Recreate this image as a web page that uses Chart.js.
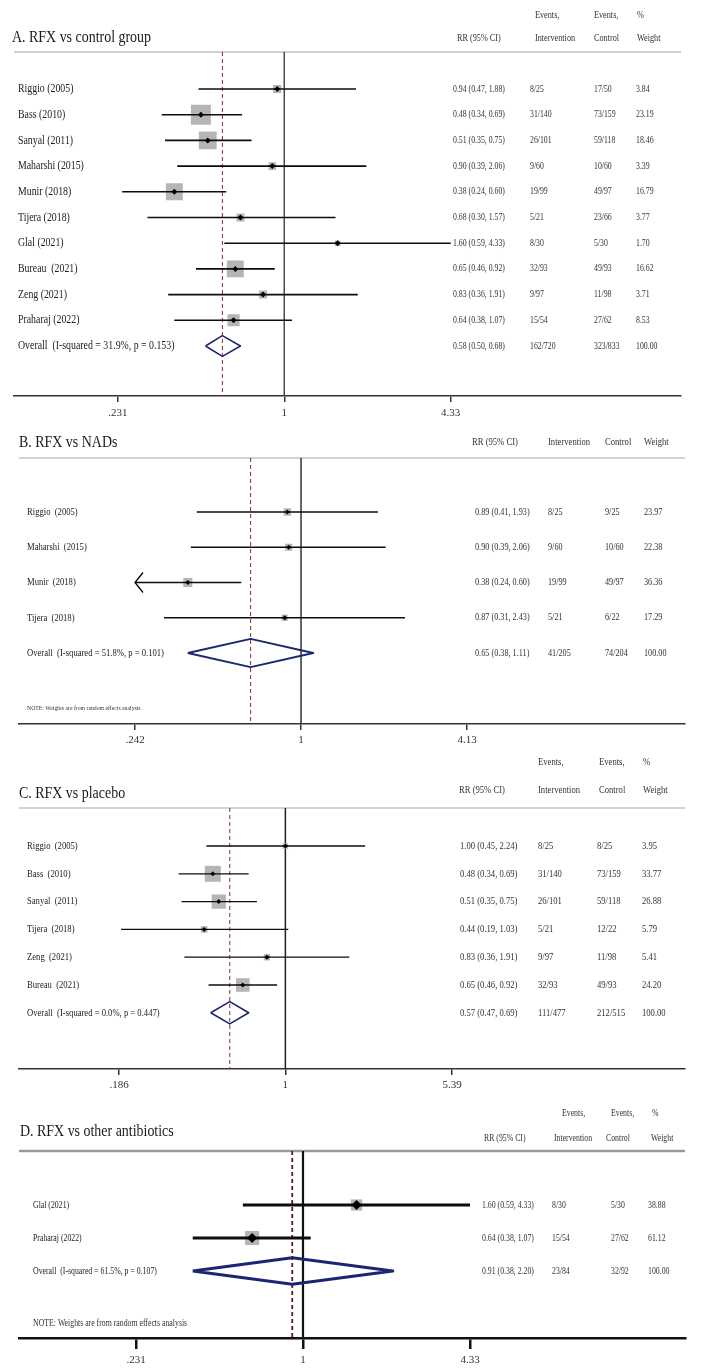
<!DOCTYPE html>
<html>
<head>
<meta charset="utf-8">
<script src="https://cdn.jsdelivr.net/npm/chart.js@4.4.1/dist/chart.umd.min.js"></script>
<style>
  html, body { margin:0; padding:0; background:#fff; }
  #page { position:relative; width:709px; height:1371px; overflow:hidden; background:#fff; }
  #page canvas { position:absolute; left:0; }
</style>
</head>
<body>
<div id="page">
  <canvas id="chartA" width="709" height="425" style="top:0px"></canvas>
  <canvas id="chartB" width="709" height="325" style="top:425px"></canvas>
  <canvas id="chartC" width="709" height="345" style="top:750px"></canvas>
  <canvas id="chartD" width="709" height="276" style="top:1095px"></canvas>
</div>
<script>
// ── shared header text
const headTop  = ['Events,', 'Events,', '%'];
const headCols = ['RR (95% CI)', 'Intervention', 'Control', 'Weight'];
const noteText = 'NOTE: Weights are from random effects analysis';

// ── A. RFX vs control group
const aTitle   = 'A. RFX vs control group';
const aStudies = ['Riggio (2005)','Bass (2010)','Sanyal (2011)','Maharshi (2015)','Munir (2018)','Tijera (2018)','Glal (2021)','Bureau  (2021)','Zeng (2021)','Praharaj (2022)'];
const aRR      = [0.94, 0.48, 0.51, 0.90, 0.38, 0.68, 1.60, 0.65, 0.83, 0.64];
const aLo      = [0.47, 0.34, 0.35, 0.39, 0.24, 0.30, 0.59, 0.46, 0.36, 0.38];
const aHi      = [1.88, 0.69, 0.75, 2.06, 0.60, 1.57, 4.33, 0.92, 1.91, 1.07];
const aEvInt   = ['8/25','31/140','26/101','9/60','19/99','5/21','8/30','32/93','9/97','15/54'];
const aEvCtl   = ['17/50','73/159','59/118','10/60','49/97','23/66','5/30','49/93','11/98','27/62'];
const aWeight  = [3.84, 23.19, 18.46, 3.39, 16.79, 3.77, 1.70, 16.62, 3.71, 8.53];
const aOverall = [0.58, 0.50, 0.68];
const aTotals  = ['162/720', '323/833'];
const aHet     = [31.9, 0.153];
const aTicks   = [0.231, 1, 4.33];
const aTickLab = ['.231', '1', '4.33'];

// ── B. RFX vs NADs
const bTitle   = 'B. RFX vs NADs';
const bStudies = ['Riggio  (2005)','Maharshi  (2015)','Munir  (2018)','Tijera  (2018)'];
const bRR      = [0.89, 0.90, 0.38, 0.87];
const bLo      = [0.41, 0.39, 0.24, 0.31];
const bHi      = [1.93, 2.06, 0.60, 2.43];
const bEvInt   = ['8/25','9/60','19/99','5/21'];
const bEvCtl   = ['9/25','10/60','49/97','6/22'];
const bWeight  = [23.97, 22.38, 36.36, 17.29];
const bOverall = [0.65, 0.38, 1.11];
const bTotals  = ['41/205', '74/204'];
const bHet     = [51.8, 0.101];
const bTicks   = [0.242, 1, 4.13];
const bTickLab = ['.242', '1', '4.13'];

// ── C. RFX vs placebo
const cTitle   = 'C. RFX vs placebo';
const cStudies = ['Riggio  (2005)','Bass  (2010)','Sanyal  (2011)','Tijera  (2018)','Zeng  (2021)','Bureau  (2021)'];
const cRR      = [1.00, 0.48, 0.51, 0.44, 0.83, 0.65];
const cLo      = [0.45, 0.34, 0.35, 0.19, 0.36, 0.46];
const cHi      = [2.24, 0.69, 0.75, 1.03, 1.91, 0.92];
const cEvInt   = ['8/25','31/140','26/101','5/21','9/97','32/93'];
const cEvCtl   = ['8/25','73/159','59/118','12/22','11/98','49/93'];
const cWeight  = [3.95, 33.77, 26.88, 5.79, 5.41, 24.20];
const cOverall = [0.57, 0.47, 0.69];
const cTotals  = ['111/477', '212/515'];
const cHet     = [0.0, 0.447];
const cTicks   = [0.186, 1, 5.39];
const cTickLab = ['.186', '1', '5.39'];

// ── D. RFX vs other antibiotics
const dTitle   = 'D. RFX vs other antibiotics';
const dStudies = ['Glal (2021)','Praharaj (2022)'];
const dRR      = [1.60, 0.64];
const dLo      = [0.59, 0.38];
const dHi      = [4.33, 1.07];
const dEvInt   = ['8/30','15/54'];
const dEvCtl   = ['5/30','27/62'];
const dWeight  = [38.88, 61.12];
const dOverall = [0.91, 0.38, 2.20];
const dTotals  = ['23/84', '32/92'];
const dHet     = [61.5, 0.107];
const dTicks   = [0.231, 1, 4.33];
const dTickLab = ['.231', '1', '4.33'];

const FONT = '"Liberation Serif", "Times New Roman", serif';
const SQUEEZE = 0.82;   // the source figure is horizontally condensed
const PAGE_W = 709;

function txt(ctx, s, x, y, size, color) {
  ctx.save();
  ctx.font = size + 'px ' + FONT;
  ctx.fillStyle = color || '#333';
  ctx.textBaseline = 'middle';
  ctx.textAlign = 'left';
  ctx.translate(x, y);
  ctx.scale(SQUEEZE, 1);
  ctx.fillText(s, 0, 0);
  ctx.restore();
}
const ci = (r, l, h) => r.toFixed(2) + ' (' + l.toFixed(2) + ', ' + h.toFixed(2) + ')';

function decor(d, L) {
  return {
    id: 'forestDecor',
    beforeDatasetsDraw(chart) {
      const {ctx, chartArea: a} = chart;
      ctx.save();
      ctx.strokeStyle = L.sepColor; ctx.lineWidth = L.sepW;
      ctx.beginPath(); ctx.moveTo(a.left, a.top); ctx.lineTo(a.right, a.top); ctx.stroke();
      ctx.restore();
    },
    afterDatasetsDraw(chart) {
      const {ctx} = chart;
      const xs = chart.scales.x, ys = chart.scales.y;
      // arrows where a CI runs past the axis range
      d.lo.forEach((lo, i) => {
        if (lo >= d.ticks[0]) return;
        const px = xs.getPixelForValue(d.ticks[0]), py = ys.getPixelForValue(i);
        ctx.save(); ctx.strokeStyle = '#000'; ctx.lineWidth = L.ciW;
        ctx.beginPath(); ctx.moveTo(px + 8, py - 10); ctx.lineTo(px, py); ctx.lineTo(px + 8, py + 10); ctx.stroke();
        ctx.restore();
      });
      // title and headers
      txt(ctx, d.title, L.titleX, L.titleY, L.fTitle, '#1a1a1a');
      if (L.head1Y != null) headTop.forEach((s, k) => txt(ctx, s, L.head1X[k], L.head1Y, L.fHead));
      headCols.forEach((s, k) => txt(ctx, s, L.head2X[k], L.head2Y, L.fHead));
      // study rows
      d.studies.forEach((name, i) => {
        const y = ys.getPixelForValue(i);
        txt(ctx, name, L.labelX, y, L.fLabel, '#222');
        txt(ctx, ci(d.rr[i], d.lo[i], d.hi[i]), L.valX[0], y, L.fVal);
        txt(ctx, d.evInt[i], L.valX[1], y, L.fVal);
        txt(ctx, d.evCtl[i], L.valX[2], y, L.fVal);
        txt(ctx, d.weight[i].toFixed(2), L.valX[3], y, L.fVal);
      });
      // overall row
      const oy = ys.getPixelForValue(d.studies.length);
      txt(ctx, 'Overall  (I-squared = ' + d.het[0].toFixed(1) + '%, p = ' + d.het[1].toFixed(3) + ')', L.labelX, oy, L.fLabel, '#222');
      txt(ctx, ci(d.overall[0], d.overall[1], d.overall[2]), L.valX[0], oy, L.fVal);
      txt(ctx, d.totals[0], L.valX[1], oy, L.fVal);
      txt(ctx, d.totals[1], L.valX[2], oy, L.fVal);
      txt(ctx, (100).toFixed(2), L.valX[3], oy, L.fVal);
      if (L.noteY != null) txt(ctx, noteText, L.labelX, L.noteY, L.fNote, '#333');
    }
  };
}

function forest(id, d, L) {
  const lnA = Math.log(d.ticks[0]), lnB = Math.log(d.ticks[2]);
  const k = (L.tickPx[2] - L.tickPx[0]) / (lnB - lnA);
  const p1 = L.tickPx[0] - k * lnA;
  const xMin = Math.exp((L.left - p1) / k), xMax = Math.exp((L.right - p1) / k);
  const yMin = -(L.row0 - L.top) / L.step, yMax = (L.axisY - L.row0) / L.step;
  const axisH = L.tickLen + 2 * L.tickPad + L.fTick * 1.2;

  const ds = [];
  ds.push({ data:[{x:1, y:yMin}, {x:1, y:yMax}], showLine:true, borderColor:L.refColor, borderWidth:L.refW, pointRadius:0, order:4 });
  ds.push({ data:[{x:d.overall[0], y:yMin}, {x:d.overall[0], y:yMax}], showLine:true, borderColor:L.dashColor, borderWidth:L.dashW, borderDash:[4,3], pointRadius:0, order:4 });
  d.rr.forEach((r, i) => {
    const lo = Math.max(d.lo[i], d.ticks[0]), hi = Math.min(d.hi[i], d.ticks[2]);
    ds.push({ data:[{x:lo, y:i}, {x:hi, y:i}], showLine:true, borderColor:'#0d0d0d', borderWidth:L.ciW, pointRadius:0, order:1 });
  });
  ds.push({ data:d.rr.map((r, i) => ({x:r, y:i})), pointStyle:'rect',
            pointRadius:d.weight.map(w => L.sqK * Math.sqrt(w) / Math.SQRT2),
            pointBackgroundColor:'#b5b5b5', pointBorderWidth:0, pointBorderColor:'#b5b5b5', order:2 });
  ds.push({ data:d.rr.map((r, i) => ({x:r, y:i})), pointStyle:'rectRot', pointRadius:L.mark,
            pointBackgroundColor:'#000', pointBorderWidth:0, order:0 });
  const oy = d.rr.length, [ov, ol, oh] = d.overall;
  ds.push({ data:[{x:ol, y:oy}, {x:ov, y:oy - 0.4}, {x:oh, y:oy}, {x:ov, y:oy + 0.4}, {x:ol, y:oy}],
            showLine:true, fill:false, borderColor:'#1b2670', borderWidth:L.diaW, borderJoinStyle:'round', pointRadius:0, order:1 });

  new Chart(document.getElementById(id), {
    type:'scatter',
    data:{ datasets: ds },
    options:{
      responsive:false, animation:false, devicePixelRatio:1,
      layout:{ padding:{ left:L.left, right:PAGE_W - L.right, top:L.top, bottom:L.height - L.axisY - axisH } },
      plugins:{ legend:{display:false}, tooltip:{enabled:false} },
      scales:{
        x:{
          type:'logarithmic', position:'bottom', min:xMin, max:xMax,
          afterBuildTicks: ax => { ax.ticks = d.ticks.map(v => ({value:v})); },
          ticks:{ autoSkip:false, maxRotation:0, padding:L.tickPad, color:'#333',
                  font:{family:FONT, size:L.fTick}, callback:(v, i) => d.tickLabels[i] },
          grid:{ display:true, drawOnChartArea:false, drawTicks:true, tickLength:L.tickLen, color:L.axisColor, lineWidth:L.axisW },
          border:{ display:true, color:L.axisColor, width:L.axisW }
        },
        y:{ type:'linear', display:false, reverse:true, min:yMin, max:yMax }
      }
    },
    plugins:[decor(d, L)]
  });
}

forest('chartA',
  { title:aTitle, studies:aStudies, rr:aRR, lo:aLo, hi:aHi, evInt:aEvInt, evCtl:aEvCtl, weight:aWeight,
    overall:aOverall, totals:aTotals, het:aHet, ticks:aTicks, tickLabels:aTickLab },
  { height:425, top:52, row0:89, step:25.7, axisY:396, left:12, right:681, tickPx:[116,283,450],
    labelX:18, valX:[453,530,594,636], head1X:[535,594,637], head2X:[457,535,594,637],
    head1Y:15, head2Y:38, titleX:12, titleY:38, noteY:null,
    fTitle:17, fHead:10, fLabel:12, fVal:9.5, fTick:11, fNote:7,
    sqK:4.15, mark:3, ciW:1.6, diaW:1.5, refColor:'#4a4a4a', refW:1.5, dashColor:'#8b2b2b', dashW:1,
    axisColor:'#333', axisW:1.5, tickLen:6, tickPad:5, sepColor:'#cfcfcf', sepW:2 });

forest('chartB',
  { title:bTitle, studies:bStudies, rr:bRR, lo:bLo, hi:bHi, evInt:bEvInt, evCtl:bEvCtl, weight:bWeight,
    overall:bOverall, totals:bTotals, het:bHet, ticks:bTicks, tickLabels:bTickLab },
  { height:325, top:33, row0:87, step:35.25, axisY:299, left:19, right:685, tickPx:[135,301,467],
    labelX:27, valX:[475,548,605,644], head1X:null, head2X:[472,548,605,644],
    head1Y:null, head2Y:17, titleX:19, titleY:18, noteY:283,
    fTitle:17, fHead:10.5, fLabel:10.5, fVal:10, fTick:11, fNote:7,
    sqK:1.5, mark:2.5, ciW:1.3, diaW:1.8, refColor:'#333', refW:1.5, dashColor:'#8b2b2b', dashW:1,
    axisColor:'#333', axisW:1.5, tickLen:6, tickPad:4, sepColor:'#d2d2d2', sepW:2 });

forest('chartC',
  { title:cTitle, studies:cStudies, rr:cRR, lo:cLo, hi:cHi, evInt:cEvInt, evCtl:cEvCtl, weight:cWeight,
    overall:cOverall, totals:cTotals, het:cHet, ticks:cTicks, tickLabels:cTickLab },
  { height:345, top:58, row0:96, step:27.8, axisY:319, left:19, right:685, tickPx:[119,285,452],
    labelX:27, valX:[460,538,597,642], head1X:[538,599,643], head2X:[459,538,599,643],
    head1Y:12, head2Y:40, titleX:19, titleY:44, noteY:null,
    fTitle:17, fHead:10.5, fLabel:10.5, fVal:10.5, fTick:11, fNote:7,
    sqK:2.75, mark:2.5, ciW:1.3, diaW:1.6, refColor:'#222', refW:1.5, dashColor:'#8b2b2b', dashW:1,
    axisColor:'#333', axisW:1.5, tickLen:6, tickPad:4, sepColor:'#d2d2d2', sepW:2 });

forest('chartD',
  { title:dTitle, studies:dStudies, rr:dRR, lo:dLo, hi:dHi, evInt:dEvInt, evCtl:dEvCtl, weight:dWeight,
    overall:dOverall, totals:dTotals, het:dHet, ticks:dTicks, tickLabels:dTickLab },
  { height:276, top:56, row0:110, step:33, axisY:243, left:19, right:685, tickPx:[136,302,470],
    labelX:33, valX:[482,552,611,648], head1X:[562,611,652], head2X:[484,554,606,651],
    head1Y:18, head2Y:43, titleX:20, titleY:37, noteY:228,
    fTitle:17, fHead:9.5, fLabel:9.5, fVal:9.5, fTick:11, fNote:9.5,
    sqK:1.8, mark:5, ciW:3, diaW:3, refColor:'#111', refW:2.2, dashColor:'#5c1a1a', dashW:1.8,
    axisColor:'#111', axisW:2.5, tickLen:11, tickPad:5, sepColor:'#9a9a9a', sepW:2.5 });
</script>
</body>
</html>
